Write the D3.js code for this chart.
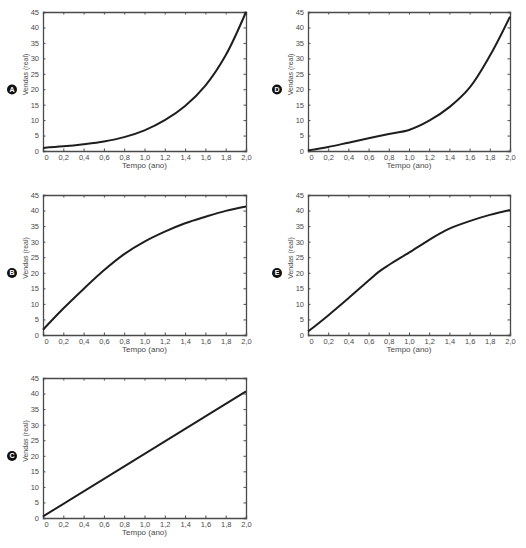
<!DOCTYPE html>
<html>
<head>
<meta charset="utf-8">
<script src="https://cdn.jsdelivr.net/npm/d3@7"></script>
<style>
body { margin: 0; background: #fff; }
svg { display: block; }
text { font-family: "Liberation Sans", Arial, sans-serif; }
</style>
</head>
<body>
<svg id="chart" width="526" height="548"></svg>
<script>
// tick values and labels
var xTicks = [0, 0.2, 0.4, 0.6, 0.8, 1.0, 1.2, 1.4, 1.6, 1.8, 2.0];
var xTickLabels = ['0', '0,2', '0,4', '0,6', '0,8', '1,0', '1,2', '1,4', '1,6', '1,8', '2,0'];
var yTicks = [0, 5, 10, 15, 20, 25, 30, 35, 40, 45];

// series
var xA = [0, 0.2, 0.4, 0.6, 0.8, 1.0, 1.2, 1.4, 1.6, 1.8, 2.0];
var yA = [1.0, 1.5, 2.2, 3.1, 4.5, 6.7, 10.0, 14.6, 21.2, 31.0, 45];
var xB = [0, 0.2, 0.4, 0.6, 0.8, 1.0, 1.2, 1.4, 1.6, 1.8, 2.0];
var yB = [1.7, 8.5, 14.8, 20.8, 26.0, 30.0, 33.2, 35.9, 38.0, 39.9, 41.3];
var xC = [0, 2.0];
var yC = [0.5, 40.7];
var xD = [0, 0.2, 0.4, 0.6, 0.8, 1.0, 1.2, 1.4, 1.6, 1.8, 2.0];
var yD = [0.2, 1.3, 2.7, 4.1, 5.5, 6.8, 9.8, 14.2, 20.5, 30.8, 43.5];
var xE = [0, 0.2, 0.4, 0.6, 0.7, 0.8, 1.0, 1.2, 1.3, 1.4, 1.6, 1.8, 2.0];
var yE = [1.1, 6.3, 11.8, 17.5, 20.3, 22.5, 26.5, 30.6, 32.5, 34.2, 36.6, 38.6, 40.2];

var panels = [
    {letter: 'A', xs: xA, ys: yA, left: 43, top: 12, w: 203, h: 139},
    {letter: 'D', xs: xD, ys: yD, left: 308, top: 12, w: 202, h: 139},
    {letter: 'B', xs: xB, ys: yB, left: 43, top: 195, w: 203, h: 140},
    {letter: 'E', xs: xE, ys: yE, left: 308, top: 195, w: 202, h: 140},
    {letter: 'C', xs: xC, ys: yC, left: 43, top: 378, w: 203, h: 140}
];

var svg = d3.select('#chart');
var axisColor = '#4a4a4a';
var textColor = '#4a4a4a';

panels.forEach(function(p){
    var x = d3.scaleLinear().domain([0, 2]).range([0, p.w]);
    var y = d3.scaleLinear().domain([0, 45]).range([p.h, 0]);
    var g = svg.append('g').attr('transform', 'translate(' + p.left + ',' + p.top + ')');

    // inward ticks on all four sides
    var bottom = g.append('g').attr('transform', 'translate(0,' + p.h + ')')
        .call(d3.axisBottom(x).tickValues(xTicks).tickSize(-2.5).tickPadding(4)
            .tickFormat(function(d, i){ return xTickLabels[i]; }));
    var top = g.append('g')
        .call(d3.axisTop(x).tickValues(xTicks).tickSize(-2.5).tickFormat(''));
    var left = g.append('g')
        .call(d3.axisLeft(y).tickValues(yTicks).tickSize(-2.5).tickPadding(4));
    var right = g.append('g').attr('transform', 'translate(' + p.w + ',0)')
        .call(d3.axisRight(y).tickValues(yTicks).tickSize(-2.5).tickFormat(''));

    [bottom, top, left, right].forEach(function(a){
        a.selectAll('path.domain').attr('stroke', axisColor).attr('stroke-width', 1.3);
        a.selectAll('.tick line').attr('stroke', axisColor).attr('stroke-width', 1);
        a.selectAll('text').attr('fill', textColor).attr('font-size', 7.5);
    });
    bottom.selectAll('text').attr('dy', '0.6em');
    bottom.selectAll('.tick').filter(function(d){ return d === 0; })
        .select('text').attr('dx', 3);

    // curve
    var pts = p.xs.map(function(v, i){ return [v, p.ys[i]]; });
    g.append('path')
        .datum(pts)
        .attr('fill', 'none')
        .attr('stroke', '#1e1e1e')
        .attr('stroke-width', 2)
        .attr('d', d3.line()
            .x(function(d){ return x(d[0]); })
            .y(function(d){ return y(d[1]); })
            .curve(d3.curveCatmullRom.alpha(0.5)));

    // axis titles
    g.append('text')
        .attr('x', p.w / 2)
        .attr('y', p.h + 17)
        .attr('text-anchor', 'middle')
        .attr('font-size', 8)
        .attr('fill', textColor)
        .text('Tempo (ano)');
    g.append('text')
        .attr('transform', 'translate(-15,' + (p.h / 2 - 7) + ') rotate(-90)')
        .attr('text-anchor', 'middle')
        .attr('font-size', 7)
        .attr('fill', textColor)
        .text('Vendas (real)');

    // option badge
    g.append('circle')
        .attr('cx', -31)
        .attr('cy', p.h / 2 + 8)
        .attr('r', 5)
        .attr('fill', '#111');
    g.append('text')
        .attr('x', -31)
        .attr('y', p.h / 2 + 8)
        .attr('dy', '0.35em')
        .attr('text-anchor', 'middle')
        .attr('font-size', 7)
        .attr('font-weight', 'bold')
        .attr('fill', '#fff')
        .text(p.letter);
});
</script>
</body>
</html>
